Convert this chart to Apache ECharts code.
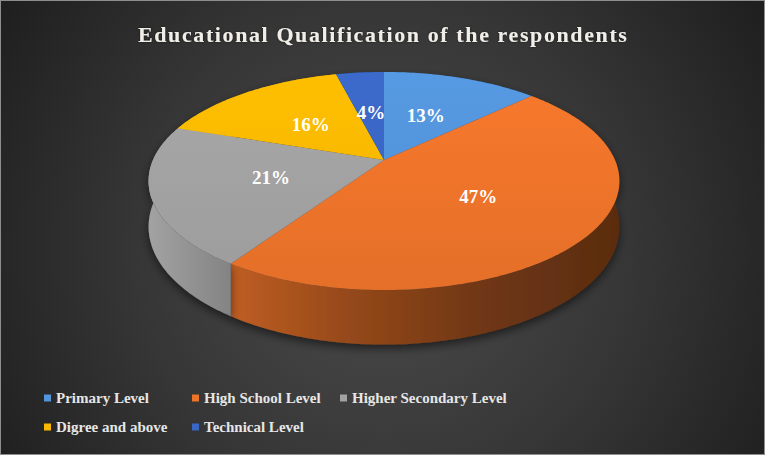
<!DOCTYPE html>
<html>
<head>
<meta charset="utf-8">
<script src="https://cdn.jsdelivr.net/npm/echarts@6/dist/echarts.min.js"></script>
<style>
html,body{margin:0;padding:0;background:#262626;}
#main{width:765px;height:455px;}
</style>
</head>
<body>
<div id="main"></div>
<script>
// ---- data ----
const titleText = 'Educational Qualification of the respondents';
const categories = ['Primary Level', 'High School Level', 'Higher Secondary Level', 'Digree and above', 'Technical Level'];
const values = [13, 47, 21, 16, 4];
// ---- styles ----
const palette = ['#5394da', '#ee742a', '#a2a2a2', '#fbb800', '#3a66c4'];
const serif = 'Liberation Serif';

const total = values.reduce((s, v) => s + v, 0);
const cumStart = values.map((v, i) => values.slice(0, i).reduce((s, x) => s + x, 0));

// pseudo-3D projection parameters
const cx = 384, cy = 160, A = 231, K = 105, D = 5.19, H = 44;
function proj(a, f, off) {
  const X = f * Math.sin(a), Z = -f * Math.cos(a);
  const p = D / (D - Z);
  return [cx + A * X * p, cy + (K * Z + off) * p];
}
function shade(hex, f) {
  const n = parseInt(hex.slice(1), 16);
  const r = Math.min(255, Math.round(((n >> 16) & 255) * f));
  const g = Math.min(255, Math.round(((n >> 8) & 255) * f));
  const b = Math.min(255, Math.round((n & 255) * f));
  return 'rgb(' + r + ',' + g + ',' + b + ')';
}
function arc(a0, a1, off) {
  const pts = [];
  const n = Math.max(2, Math.ceil((a1 - a0) / (Math.PI / 180)));
  for (let k = 0; k <= n; k++) pts.push(proj(a0 + (a1 - a0) * k / n, 1, off));
  return pts;
}

function makeRender(i) {
  return function (params, api) {
    const v = api.value(0);
    const a0 = cumStart[i] / total * Math.PI * 2;
    const a1 = a0 + v / total * Math.PI * 2;
    const base = palette[i];
    const top = arc(a0, a1, 0);
    const bottom = arc(a0, a1, H).reverse();
    const wallFill = new echarts.graphic.LinearGradient(150, 0, 620, 0, [
      { offset: 0, color: shade(base, 1.0) },
      { offset: 0.18, color: shade(base, 0.8) },
      { offset: 0.43, color: shade(base, 0.62) },
      { offset: 0.7, color: shade(base, 0.47) },
      { offset: 1, color: shade(base, 0.38) }
    ], true);
    const topFill = new echarts.graphic.LinearGradient(0, 72, 0, 295, [
      { offset: 0, color: shade(base, 1.04) },
      { offset: 1, color: shade(base, 0.96) }
    ], true);
    const mid = (a0 + a1) / 2;
    const lp = proj(mid, 0.5, 0);
    return {
      type: 'group',
      children: [
        {
          type: 'polygon', z2: 1,
          shape: { points: top.concat(bottom) },
          style: { fill: wallFill, shadowBlur: 10, shadowColor: 'rgba(0,0,0,0.55)', shadowOffsetY: 4 }
        },
        {
          type: 'polygon', z2: 10,
          shape: { points: [proj(0, 0, 0)].concat(top) },
          style: { fill: topFill }
        },
        {
          type: 'text', z2: 20,
          x: lp[0], y: lp[1],
          style: {
            text: v + '%', fill: '#ffffff',
            fontFamily: serif, fontWeight: 'bold', fontSize: 19,
            align: 'center', verticalAlign: 'middle'
          }
        }
      ]
    };
  };
}

const chart = echarts.init(document.getElementById('main'), null, { renderer: 'svg' });
chart.setOption({
  animation: false,
  color: palette,
  graphic: [
    {
      type: 'rect', z: -10, silent: true,
      shape: { x: 0, y: 0, width: 765, height: 455 },
      style: {
        fill: new echarts.graphic.RadialGradient(383, 250, 450, [
          { offset: 0, color: '#4c4c4c' },
          { offset: 0.55, color: '#363636' },
          { offset: 1, color: '#1f1f1f' }
        ], true),
        stroke: '#8e8e8e', lineWidth: 2
      }
    }
  ],
  title: {
    text: titleText,
    left: 133, top: 18,
    textStyle: {
      color: '#f1eee8', fontSize: 22, fontWeight: 'bold',
      fontFamily: serif,
      textShadowColor: 'rgba(0,0,0,0.6)', textShadowBlur: 2
    }
  },
  legend: {
    data: categories,
    left: 44, top: 388, width: 470, padding: 0,
    icon: 'rect', itemWidth: 7, itemHeight: 7, itemGap: 9,
    textStyle: {
      color: '#e6e6e6', fontSize: 15, fontWeight: 'bold',
      fontFamily: serif,
      width: 127, lineHeight: 20
    }
  },
  series: categories.map((name, i) => ({
    type: 'custom',
    name: name,
    coordinateSystem: 'none',
    z: 2,
    data: [[values[i]]],
    renderItem: makeRender(i)
  }))
});

function spaceTitle() {
  document.querySelectorAll('#main text').forEach(t => {
    if (t.textContent === titleText) t.style.letterSpacing = '1.6px';
  });
}
spaceTitle();
chart.on('finished', spaceTitle);
</script>
</body>
</html>
